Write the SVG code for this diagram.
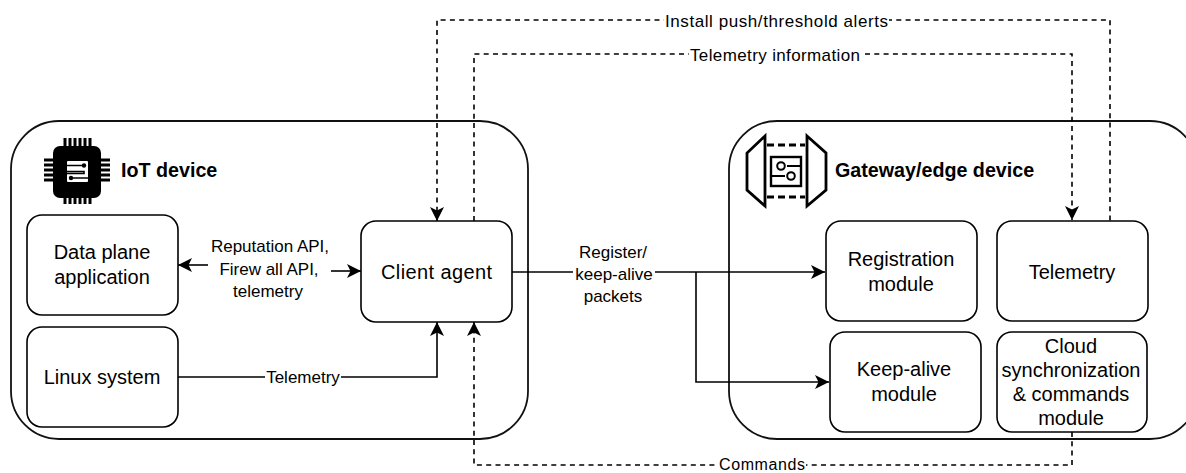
<svg xmlns="http://www.w3.org/2000/svg" width="1186" height="473" viewBox="0 0 1186 473">
<style>
.box{fill:#fff;stroke:#000;stroke-width:1.6}
.big{fill:#fff;stroke:#111;stroke-width:1.8}
text{font-family:"Liberation Sans",Arial,sans-serif;fill:#000;text-anchor:middle}
.n{font-size:20px}
.l{font-size:17px}
.t{font-size:19.7px;font-weight:bold;text-anchor:start}
.c{fill:none;stroke:#000;stroke-width:1.6}
.d{stroke-dasharray:5 4.3}
.bg{fill:#fff}
</style>
<defs>
<marker id="a" viewBox="0 0 14 14" refX="14" refY="7" markerWidth="14" markerHeight="14" markerUnits="userSpaceOnUse" orient="auto-start-reverse"><path d="M0 0L14 7L0 14L3.5 7Z" fill="#000"/></marker>
</defs>
<g id="iot-device">
<rect class="big" x="11" y="121" width="517" height="318" rx="48"/>
<g id="chip-icon">
<path d="M65 138v66M70 138v66M75 138v66M80 138v66M85 138v66M90 138v66M44 160h66M44 165h66M44 170h66M44 175h66M44 180h66" stroke="#000" stroke-width="3" fill="none"/>
<rect x="53" y="146" width="48" height="52" rx="7" fill="#000"/>
<rect x="67" y="161" width="21" height="21" rx="1" fill="#fff"/>
<path d="M67 165.500h17M88 178h-17M67 171.500h17v2H67" stroke="#000" stroke-width="1.6" fill="none"/>
<circle cx="84" cy="165.500" r="2.200" fill="#000"/><circle cx="71" cy="178" r="2.200" fill="#000"/>
</g>
<text class="t" x="121" y="177">IoT device</text>
</g>
<g id="gateway">
<rect class="big" x="729" y="121" width="469" height="318" rx="48"/>
<g id="gateway-icon" fill="none" stroke="#000" stroke-width="2.800">
<path d="M765 136L747 153V190L765 206Z"/>
<path d="M807 136L826 153V190L807 206Z"/>
<path d="M767 145H805M767 197H805" stroke-dasharray="7 4"/>
<rect x="771" y="157" width="30" height="29" stroke-width="2.400"/>
<path d="M771 176H785M801 166H787" stroke-width="2"/>
<circle cx="781" cy="166" r="3.800" stroke-width="2"/><circle cx="791" cy="176" r="3.800" stroke-width="2"/>
</g>
<text class="t" x="835" y="177">Gateway/edge device</text>
</g>
<g id="connectors">
<path class="c d" d="M437 221V20H1110V221" marker-start="url(#a)"/>
<path class="c d" d="M474 221V54H1072V220" marker-end="url(#a)"/>
<path class="c d" d="M1072 432V465H474V322" marker-end="url(#a)"/>
<path class="c" d="M208 265H178" marker-end="url(#a)"/>
<path class="c" d="M331 271H361" marker-end="url(#a)"/>
<path class="c" d="M178 377H437V322" marker-end="url(#a)"/>
<path class="c" d="M512 272H825" marker-end="url(#a)"/>
<path class="c" d="M696 272V382H829" marker-end="url(#a)"/>
</g>
<g id="labels">
<rect class="bg" x="664" y="12" width="225" height="16"/>
<text class="l" x="776.500" y="27" textLength="223">Install push/threshold alerts</text>
<rect class="bg" x="689" y="46" width="172" height="16"/>
<text class="l" x="775" y="61" textLength="170">Telemetry information</text>
<rect class="bg" x="718" y="457" width="88" height="16"/>
<text class="l" x="762" y="469.500" font-size="16" style="font-size:16px" textLength="86">Commands</text>
<text class="l" x="270" y="252">Reputation API,</text>
<text class="l" x="269" y="275">Firew all API,</text>
<text class="l" x="268" y="297">telemetry</text>
<rect class="bg" x="265" y="369" width="76" height="16"/>
<text class="l" x="303" y="383">Telemetry</text>
<rect class="bg" x="573" y="262" width="82" height="20"/>
<text class="l" x="613" y="258">Register/</text>
<text class="l" x="614" y="280">keep-alive</text>
<text class="l" x="613" y="302">packets</text>
</g>
<g id="data-plane"><rect class="box" x="27" y="215" width="151" height="100" rx="15"/><text class="n" x="102" y="259">Data plane</text><text class="n" x="102" y="284">application</text></g>
<g id="linux"><rect class="box" x="27" y="327" width="151" height="100" rx="15"/><text class="n" x="102" y="384">Linux system</text></g>
<g id="client-agent"><rect class="box" x="361" y="221" width="151" height="101" rx="15"/><text class="n" x="436.500" y="279" textLength="111">Client agent</text></g>
<g id="registration"><rect class="box" x="826" y="221" width="151" height="100" rx="15"/><text class="n" x="901" y="266">Registration</text><text class="n" x="901" y="291">module</text></g>
<g id="telemetry"><rect class="box" x="997" y="221" width="151" height="100" rx="15"/><text class="n" x="1072" y="279">Telemetry</text></g>
<g id="keep-alive"><rect class="box" x="830" y="332" width="151" height="100" rx="15"/><text class="n" x="904" y="376">Keep-alive</text><text class="n" x="904" y="401">module</text></g>
<g id="cloud"><rect class="box" x="997" y="332" width="150" height="100" rx="15"/><text class="n" x="1071" y="353">Cloud</text><text class="n" x="1071" y="377">synchronization</text><text class="n" x="1071" y="401">&amp; commands</text><text class="n" x="1071" y="425">module</text></g>
</svg>
